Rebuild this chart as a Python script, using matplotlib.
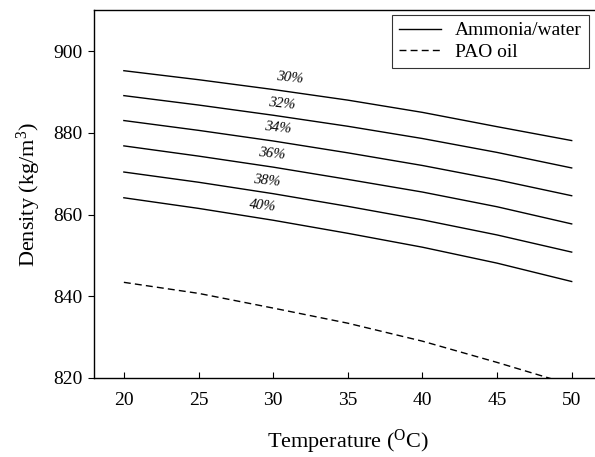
import matplotlib
matplotlib.use('Agg')
import matplotlib.pyplot as plt

# Data
temps = [20, 25, 30, 35, 40, 45, 50]
concentrations = ['30%', '32%', '34%', '36%', '38%', '40%']
density_nh3 = [
    [895.2, 893.0, 890.6, 888.0, 885.0, 881.5, 878.1],
    [889.1, 886.8, 884.3, 881.6, 878.6, 875.2, 871.4],
    [883.0, 880.6, 878.0, 875.1, 872.0, 868.5, 864.6],
    [876.8, 874.3, 871.6, 868.6, 865.5, 861.9, 857.7],
    [870.4, 867.9, 865.1, 862.0, 858.7, 855.0, 850.8],
    [864.1, 861.5, 858.6, 855.4, 852.0, 848.1, 843.6],
]
density_pao = [843.4, 840.7, 837.1, 833.4, 829.0, 823.8, 818.3]

# where the concentration labels sit (T, density)
label_x = [31.1, 30.6, 30.3, 29.9, 29.6, 29.3]
label_y = [893.5, 887.0, 881.1, 874.8, 868.2, 862.1]

plt.rcParams['font.family'] = ['Liberation Serif', 'DejaVu Serif']
plt.rcParams['mathtext.fontset'] = 'custom'
plt.rcParams['mathtext.rm'] = 'Liberation Serif'
plt.rcParams['mathtext.it'] = 'Liberation Serif:italic'

fig = plt.figure(figsize=(5.95, 4.57), dpi=100)
ax = fig.add_axes([0.158, 0.173, 0.853, 0.8046])

for i, rho in enumerate(density_nh3):
    ax.plot(temps, rho, color='black', lw=1.0,
            label='Ammonia/water' if i == 0 else None)
    ax.text(label_x[i], label_y[i], concentrations[i], fontsize=10.5,
            style='italic', ha='center', va='center', rotation=-6)

ax.plot(temps, density_pao, color='black', lw=1.0, dashes=(5, 3), label='PAO oil')

ax.set_xlim(18, 52)
ax.set_ylim(820, 910)
ax.set_xticks(temps)
ax.set_yticks([820, 840, 860, 880, 900])
ax.tick_params(axis='x', direction='in', length=4, width=0.8, labelsize=14, pad=10)
ax.tick_params(axis='y', direction='out', length=4.5, width=0.8, labelsize=14, pad=4)
ax.spines['right'].set_visible(False)
for s in ['left', 'top', 'bottom']:
    ax.spines[s].set_linewidth(1.0)

ax.set_xlabel('Temperature ($^{\\rm O}$C)', fontsize=16, labelpad=14)
ax.set_ylabel('Density (kg/m$^{3}$)', fontsize=16, labelpad=7)

leg = ax.legend(loc='upper left', bbox_to_anchor=(391.7 / 595, 1 - 15 / 457),
                bbox_transform=fig.transFigure, fontsize=14, frameon=True,
                fancybox=False, edgecolor='black', handlelength=2.2,
                handletextpad=0.7, borderpad=0.35, labelspacing=0.2,
                borderaxespad=0)
leg.get_frame().set_linewidth(0.8)

plt.savefig('out.png', dpi=100)
